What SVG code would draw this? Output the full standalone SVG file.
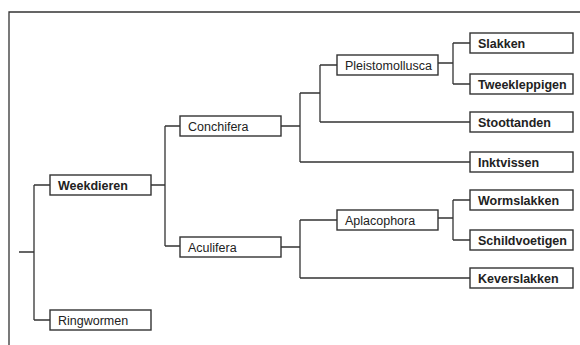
<svg xmlns="http://www.w3.org/2000/svg" width="580" height="345" viewBox="0 0 580 345">
<style>
.box{fill:#fff;stroke:#333;stroke-width:1.4}
.t{font-family:"Liberation Sans",Arial,sans-serif;font-size:12.5px;fill:#222}
.b{font-weight:bold}
.c{fill:none;stroke:#333;stroke-width:1.3}
</style>
<rect width="580" height="345" fill="#fff"/>
<path d="M9,345 V12 H580" fill="none" stroke="#333" stroke-width="1.3"/>
<g id="connectors" class="c">
<path d="M19,252 H34 M34,185 V320 M34,185 H50 M34,320 H50"/>
<path d="M151,185 H165 M165,126 V246 M165,126 H180 M165,246 H180"/>
<path d="M281,126 H300 M300,93 V162 M300,93 H320 M300,162 H470"/>
<path d="M320,65 V122 M320,65 H337 M320,122 H470"/>
<path d="M438,63 H453 M453,43 V84 M453,43 H470 M453,84 H470"/>
<path d="M281,247 H300 M300,220 V278 M300,220 H337 M300,278 H470"/>
<path d="M438,218 H453 M453,200 V240 M453,200 H470 M453,240 H470"/>
</g>
<g id="weekdieren"><rect class="box" x="50" y="175" width="101" height="20"/><text class="t b" x="58" y="189.5">Weekdieren</text></g>
<g id="ringwormen"><rect class="box" x="50" y="310" width="101" height="20"/><text class="t" x="58" y="324.5">Ringwormen</text></g>
<g id="conchifera"><rect class="box" x="180" y="116" width="101" height="20"/><text class="t" x="188" y="130.5">Conchifera</text></g>
<g id="aculifera"><rect class="box" x="180" y="237" width="101" height="20"/><text class="t" x="188" y="251.5">Aculifera</text></g>
<g id="pleistomollusca"><rect class="box" x="337" y="55" width="101" height="20"/><text class="t" x="345" y="69.5">Pleistomollusca</text></g>
<g id="aplacophora"><rect class="box" x="337" y="210" width="101" height="20"/><text class="t" x="345" y="224.5">Aplacophora</text></g>
<g id="slakken"><rect class="box" x="470" y="33" width="103" height="20"/><text class="t b" x="478" y="47.5">Slakken</text></g>
<g id="tweekleppigen"><rect class="box" x="470" y="74" width="103" height="20"/><text class="t b" x="478" y="88.5">Tweekleppigen</text></g>
<g id="stoottanden"><rect class="box" x="470" y="112" width="103" height="20"/><text class="t b" x="478" y="126.5">Stoottanden</text></g>
<g id="inktvissen"><rect class="box" x="470" y="152" width="103" height="20"/><text class="t b" x="478" y="166.5">Inktvissen</text></g>
<g id="wormslakken"><rect class="box" x="470" y="190" width="103" height="20"/><text class="t b" x="478" y="204.5">Wormslakken</text></g>
<g id="schildvoetigen"><rect class="box" x="470" y="230" width="103" height="20"/><text class="t b" x="478" y="244.5">Schildvoetigen</text></g>
<g id="keverslakken"><rect class="box" x="470" y="268" width="103" height="20"/><text class="t b" x="478" y="282.5">Keverslakken</text></g>
</svg>
